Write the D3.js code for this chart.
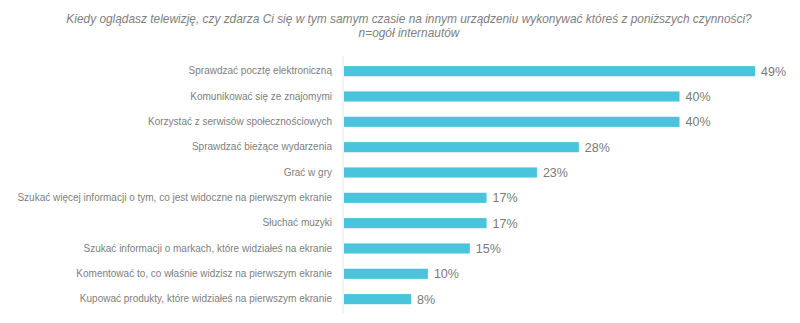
<!DOCTYPE html>
<html><head><meta charset="utf-8">
<script src="https://cdn.jsdelivr.net/npm/d3@7"></script>
<style>body{margin:0;background:#fff}svg{display:block}</style>
</head><body>
<svg id="c" width="800" height="323"></svg>
<script>
const titleLines = ["Kiedy oglądasz telewizję, czy zdarza Ci się w tym samym czasie na innym urządzeniu wykonywać któreś z poniższych czynności?", "n=ogół internautów"];
const categories = [
  "Sprawdzać pocztę elektroniczną",
  "Komunikować się ze znajomymi",
  "Korzystać z serwisów społecznościowych",
  "Sprawdzać bieżące wydarzenia",
  "Grać w gry",
  "Szukać więcej informacji o tym, co jest widoczne na pierwszym ekranie",
  "Słuchać muzyki",
  "Szukać informacji o markach, które widziałeś na ekranie",
  "Komentować to, co właśnie widzisz na pierwszym ekranie",
  "Kupować produkty, które widziałeś na pierwszym ekranie"
];
const values = [49, 40, 40, 28, 23, 17, 17, 15, 10, 8];

const svg = d3.select("#c");
const font = "'Liberation Sans', Arial, sans-serif";

svg.append("g").selectAll("text").data(titleLines).join("text")
  .attr("x", 409).attr("y", (d, i) => 23 + i * 14)
  .attr("text-anchor", "middle")
  .attr("font-family", font).attr("font-style", "italic")
  .attr("font-size", 11.9).attr("fill", "#808080")
  .text(d => d);

const x = d3.scaleLinear().domain([0, 49]).range([344, 755]);
const y = d3.scaleBand().domain(categories).range([58.5, 311.8]).paddingInner(0.6).paddingOuter(0.3);

svg.append("line").attr("x1", 343).attr("x2", 343).attr("y1", 56).attr("y2", 314)
  .attr("stroke", "#e6e6e6").attr("stroke-width", 1);

svg.append("g").selectAll("rect").data(values).join("rect")
  .attr("x", x(0)).attr("y", (d, i) => y(categories[i]))
  .attr("width", d => x(d) - x(0)).attr("height", y.bandwidth())
  .attr("fill", "#4ac4dc");

svg.append("g").selectAll("text").data(values).join("text")
  .attr("x", d => x(d) + 6).attr("y", (d, i) => y(categories[i]) + y.bandwidth() / 2)
  .attr("dy", "0.36em")
  .attr("font-family", font).attr("font-size", 12.5).attr("fill", "#7a7a7a")
  .text(d => d + "%");

const yAxis = d3.axisLeft(y).tickSize(0).tickPadding(11);
const ga = svg.append("g").attr("transform", "translate(343,0)").call(yAxis);
ga.select(".domain").remove();
ga.selectAll("text").attr("font-family", font).attr("font-size", 10).attr("fill", "#808080");
</script>
</body></html>
